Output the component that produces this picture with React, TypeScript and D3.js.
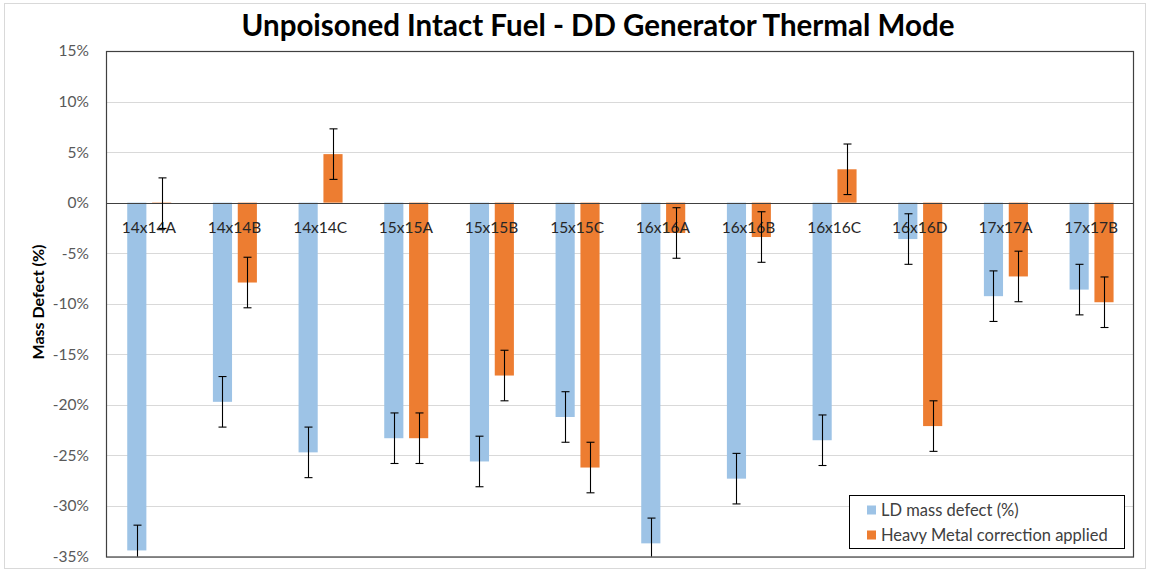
import React from "react";
import * as d3 from "d3";

// Fuel assembly types
const categories = [
  "14x14A", "14x14B", "14x14C", "15x15A", "15x15B", "15x15C",
  "16x16A", "16x16B", "16x16C", "16x16D", "17x17A", "17x17B",
];

// LD mass defect (%)
const ldDefect = [-34.4, -19.7, -24.7, -23.3, -25.6, -21.2, -33.7, -27.3, -23.5, -3.6, -9.25, -8.6];
const ldError = [2.5, 2.5, 2.5, 2.5, 2.5, 2.5, 2.5, 2.5, 2.5, 2.5, 2.5, 2.5];

// Heavy Metal correction applied (%)
const hmCorrected = [-0.05, -7.9, 4.8, -23.3, -17.1, -26.2, -3.0, -3.4, 3.3, -22.1, -7.3, -9.85];
const hmError = [2.5, 2.5, 2.5, 2.5, 2.5, 2.5, 2.5, 2.5, 2.5, 2.5, 2.5, 2.5];

const yTicks = [15, 10, 5, 0, -5, -10, -15, -20, -25, -30, -35];

const seriesNames = ["LD mass defect (%)", "Heavy Metal correction applied"];
const seriesColors = ["#9DC3E6", "#ED7D31"];

const W = 1151;
const H = 577;
const plot = { left: 106, right: 1134, top: 51, bottom: 556.5 };
const FONT = "Lato, 'Open Sans', sans-serif";

export default function App() {
  const x0 = d3.scaleBand<string>().domain(categories).range([plot.left, plot.right]).padding(0);
  const bw = x0.bandwidth();
  const x1 = d3
    .scaleBand<number>()
    .domain([0, 1])
    .range([bw / 2 - 21.6, bw / 2 + 22.4])
    .paddingInner(0.23)
    .paddingOuter(0);
  const y = d3.scaleLinear().domain([-35, 15]).range([plot.bottom, plot.top]);
  const series = [
    { values: ldDefect, errors: ldError },
    { values: hmCorrected, errors: hmError },
  ];
  const capHalf = 4;

  return (
    <svg
      width={W}
      height={H}
      style={{ position: "absolute", left: 0, top: 0, background: "#fff" }}
      fontFamily={FONT}
    >
      {/* outer chart border */}
      <rect x={4.5} y={3.5} width={1141} height={565} fill="none" stroke="#d9d9d9" strokeWidth={1} />

      {/* title */}
      <text x={598} y={36} textAnchor="middle" fontSize={29.5} fontWeight={700} fill="#000">
        Unpoisoned Intact Fuel - DD Generator Thermal Mode
      </text>

      {/* gridlines */}
      {yTicks.map((t) => (
        <line
          key={"g" + t}
          x1={plot.left}
          x2={plot.right}
          y1={Math.round(y(t)) + 0.5}
          y2={Math.round(y(t)) + 0.5}
          stroke="#d9d9d9"
          strokeWidth={1}
        />
      ))}

      {/* y tick labels */}
      {yTicks.map((t) => (
        <text
          key={"t" + t}
          x={89}
          y={y(t)}
          dy="0.35em"
          textAnchor="end"
          fontSize={15.5}
          fill="#595959"
        >
          {t}%
        </text>
      ))}

      {/* y axis title */}
      <text
        transform={`translate(44, 302) rotate(-90)`}
        textAnchor="middle"
        fontSize={16}
        fontWeight={700}
        fill="#000"
      >
        Mass Defect (%)
      </text>

      {/* bars */}
      {series.map((s, si) =>
        categories.map((c, i) => {
          const v = s.values[i];
          const bx = (x0(c) as number) + (x1(si) as number);
          const y0 = y(0);
          const yv = y(v);
          return (
            <rect
              key={`b${si}-${i}`}
              x={bx}
              y={Math.min(y0, yv)}
              width={x1.bandwidth()}
              height={Math.abs(yv - y0)}
              fill={seriesColors[si]}
            />
          );
        })
      )}

      {/* plot frame and zero line */}
      <rect
        x={plot.left + 0.5}
        y={plot.top + 0.5}
        width={plot.right - plot.left - 1}
        height={plot.bottom - plot.top}
        fill="none"
        stroke="#404040"
        strokeWidth={1.2}
      />
      <line
        x1={plot.left}
        x2={plot.right}
        y1={Math.round(y(0)) + 0.5}
        y2={Math.round(y(0)) + 0.5}
        stroke="#404040"
        strokeWidth={1.2}
      />

      {/* category labels */}
      {categories.map((c) => (
        <text
          key={"c" + c}
          x={(x0(c) as number) + bw / 2}
          y={232.5}
          textAnchor="middle"
          fontSize={15.5}
          fill="#262626"
        >
          {c}
        </text>
      ))}

      {/* error bars */}
      {series.map((s, si) =>
        categories.map((c, i) => {
          const cx = Math.round((x0(c) as number) + (x1(si) as number) + x1.bandwidth() / 2) + 0.5;
          const top = y(s.values[i] + s.errors[i]);
          const bot = Math.min(y(s.values[i] - s.errors[i]), plot.bottom);
          return (
            <g key={`e${si}-${i}`} stroke="#000" strokeWidth={1.1}>
              <line x1={cx} x2={cx} y1={top} y2={bot} />
              <line x1={cx - capHalf} x2={cx + capHalf} y1={top} y2={top} />
              {y(s.values[i] - s.errors[i]) <= plot.bottom && (
                <line x1={cx - capHalf} x2={cx + capHalf} y1={bot} y2={bot} />
              )}
            </g>
          );
        })
      )}

      {/* legend */}
      <rect x={849.5} y={495.5} width={275} height={53} fill="#fff" stroke="#000" strokeWidth={1} />
      {seriesNames.map((n, i) => (
        <g key={"l" + i} transform={`translate(867, ${510 + i * 25})`}>
          <rect x={0} y={-4.5} width={9} height={9} fill={seriesColors[i]} />
          <text x={14} y={0} dy="0.35em" fontSize={16.5} fill="#404040">
            {n}
          </text>
        </g>
      ))}
    </svg>
  );
}
